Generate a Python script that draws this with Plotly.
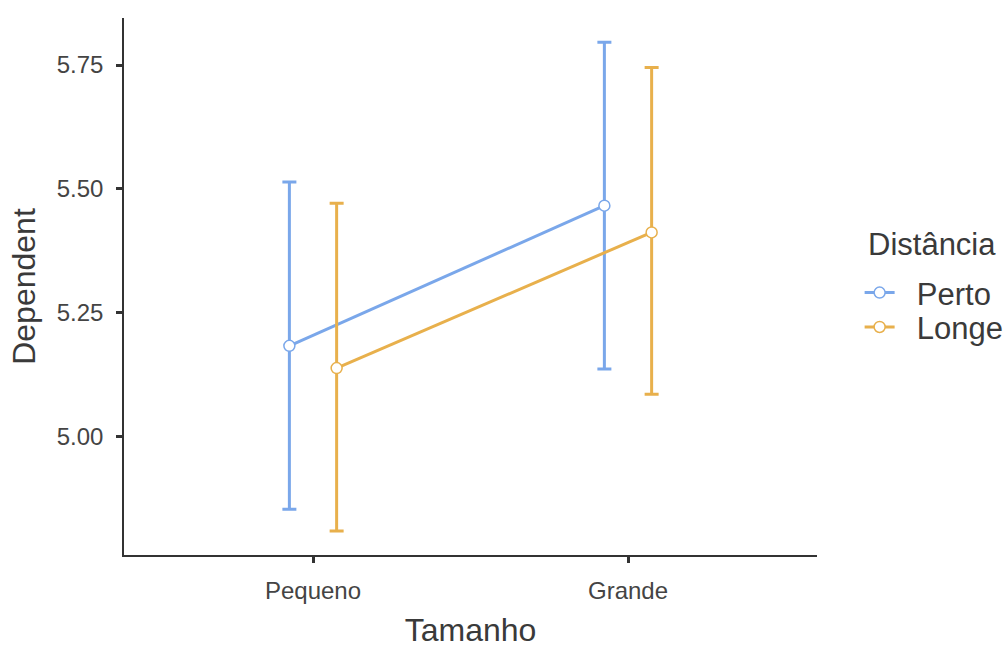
import plotly.graph_objects as go

# Group means and confidence limits
categories = ["Pequeno", "Grande"]
groups = ["Perto", "Longe"]
means = {
    "Perto": [5.183, 5.466],
    "Longe": [5.138, 5.412],
}
lower = {
    "Perto": [4.853, 5.136],
    "Longe": [4.809, 5.085],
}
upper = {
    "Perto": [5.514, 5.796],
    "Longe": [5.471, 5.745],
}
y_ticks = [5.00, 5.25, 5.50, 5.75]
legend_title = "Distância"

colors = {"Perto": "#7AA7EA", "Longe": "#E8B04C"}
dodge = {"Perto": -0.075, "Longe": 0.075}
legend_ids = {"Perto": "legend", "Longe": "legend2"}
legend_y = {"Perto": 0.488, "Longe": 0.424}
text_col = "#3a3a3a"
legend_font = dict(size=31, color=text_col)

fig = go.Figure()
for g in groups:
    xs = [i + 1 + dodge[g] for i in range(len(categories))]
    ys = means[g]
    fig.add_trace(go.Scatter(
        x=xs, y=ys,
        mode="lines+markers",
        name="\u00a0\u00a0" + g,
        legend=legend_ids[g],
        showlegend=True,
        line=dict(color=colors[g], width=3),
        marker=dict(size=11, color="white", line=dict(color=colors[g], width=1.5)),
        error_y=dict(
            type="data", symmetric=False,
            array=[u - m for u, m in zip(upper[g], ys)],
            arrayminus=[m - l for m, l in zip(ys, lower[g])],
            color=colors[g], thickness=3, width=7,
        ),
    ))

# one single-entry legend per group so the entries can be spaced freely
legend_cfg = {}
for g in groups:
    legend_cfg[legend_ids[g]] = dict(
        font=legend_font,
        x=1.0615, y=legend_y[g], xanchor="left", yanchor="middle",
        itemwidth=30, bgcolor="rgba(0,0,0,0)",
    )

fig.update_layout(
    width=1004, height=648,
    showlegend=True,
    margin=dict(l=124, r=187, t=18, b=93, autoexpand=False),
    paper_bgcolor="white", plot_bgcolor="white",
    font=dict(family="Liberation Sans, Arial, sans-serif", color=text_col),
    **legend_cfg,
    annotations=[dict(
        text=legend_title, xref="paper", yref="paper",
        x=1.071, y=0.5773, xanchor="left", yanchor="middle",
        showarrow=False, font=legend_font,
    )],
    xaxis=dict(
        range=[0.4, 2.6],
        tickvals=[1, 2], ticktext=categories,
        showline=True, linecolor="#333333", linewidth=1.5,
        ticks="outside", ticklen=6, tickwidth=2.5, tickcolor="#333333",
        tickfont=dict(size=24, color="#444444"),
        ticklabelstandoff=7,
        showgrid=False, zeroline=False,
        title=dict(text="Tamanho", font=dict(size=32, color=text_col), standoff=22),
    ),
    yaxis=dict(
        range=[4.7605, 5.845],
        tickvals=y_ticks, ticktext=[f"{v:.2f}" for v in y_ticks],
        showline=True, linecolor="#333333", linewidth=1.5,
        ticks="outside", ticklen=6, tickwidth=2.5, tickcolor="#333333",
        tickfont=dict(size=24, color="#444444"),
        ticklabelstandoff=8,
        showgrid=False, zeroline=False,
        title=dict(text="Dependent", font=dict(size=32, color=text_col), standoff=12),
    ),
)

fig.write_html("out.html")
